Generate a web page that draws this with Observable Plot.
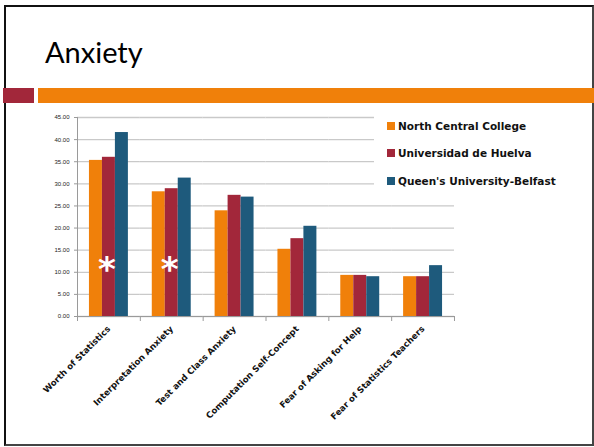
<!DOCTYPE html>
<html>
<head>
<meta charset="utf-8">
<script src="https://cdn.jsdelivr.net/npm/d3@7"></script>
<script src="https://cdn.jsdelivr.net/npm/@observablehq/plot@0.6"></script>
<style>
  html, body { margin: 0; padding: 0; background: #fff; }
  #slide { position: relative; width: 594px; height: 447px; overflow: hidden; background: #fff; }
  #border { position: absolute; left: 4px; top: 5px; width: 590px; height: 441px; box-sizing: border-box;
            border-top: 2px solid #111; border-left: 2px solid #111; border-right: 2px solid #444; border-bottom: 2px solid #444; }
  #title { position: absolute; left: 45px; top: 37px; font-family: Lato, "Open Sans", sans-serif; font-size: 29px; line-height: 29px; color: #000; }
  #bandRed { position: absolute; left: 3px; top: 88px; width: 31px; height: 15px; background: #A2273A; }
  #bandOrange { position: absolute; left: 38px; top: 88px; width: 556px; height: 15px; background: #F0800A; }
  #chart { position: absolute; left: 0; top: 0; }
  #legend { position: absolute; left: 374px; top: 110px; width: 214px; height: 82px; background: #fff; }
  .item { position: absolute; left: 13px; display: flex; align-items: center; font-family: "DejaVu Sans", sans-serif; font-weight: bold; font-size: 10.5px; color: #111; white-space: nowrap; }
  .sw { width: 8px; height: 8px; margin-right: 3px; }
</style>
</head>
<body>
<div id="slide">
  <div id="border"></div>
  <div id="title">Anxiety</div>
  <div id="bandRed"></div>
  <div id="bandOrange"></div>
  <div id="chart"></div>
  <div id="legend"></div>
</div>
<script>
const categories = [
  "Worth of Statistics",
  "Interpretation Anxiety",
  "Test and Class Anxiety",
  "Computation Self-Concept",
  "Fear of Asking for Help",
  "Fear of Statistics Teachers"
];
const series = ["North Central College", "Universidad de Huelva", "Queen's University-Belfast"];
const northCentral = [35.3, 28.2, 23.9, 15.2, 9.3, 9.0];
const huelva       = [36.0, 28.9, 27.4, 17.6, 9.3, 9.0];
const queens       = [41.6, 31.3, 27.0, 20.4, 9.0, 11.5];
const yTicks = [0, 5, 10, 15, 20, 25, 30, 35, 40, 45];
const colors = ["#F0800A", "#A2273A", "#1E5A7C"];
const starred = ["Worth of Statistics", "Interpretation Anxiety"];
const starY = [10.6, 10.6];

const seriesValues = [northCentral, huelva, queens];
const data = [];
categories.forEach((c, i) => {
  series.forEach((s, j) => data.push({category: c, series: s, value: seriesValues[j][i]}));
});
const stars = starred.map((c, i) => ({category: c, series: series[1], y: starY[i]}));

const W = 594, H = 447;
const mTop = 117, mBottom = 131, mLeft = 77, mRight = 140;
const innerH = H - mTop - mBottom;
const axisGray = "#9a9a9a";

const chart = Plot.plot({
  width: W, height: H,
  marginTop: mTop, marginBottom: mBottom, marginLeft: mLeft, marginRight: mRight,
  style: {background: "transparent", overflow: "visible"},
  fx: {domain: categories, padding: 0, round: false},
  x: {domain: series, paddingInner: 0, paddingOuter: 0.92, round: false, axis: null},
  y: {domain: [0, 45], axis: null},
  color: {domain: series, range: colors},
  marks: [
    Plot.gridY(yTicks, {stroke: "#c9c9c9", strokeOpacity: 1, strokeWidth: 1.3}),
    Plot.barY(data, {fx: "category", x: "series", y: "value", fill: "series"}),
    Plot.ruleY([0], {stroke: axisGray, strokeWidth: 1}),
    Plot.frame({anchor: "left", facetAnchor: "left", stroke: axisGray, strokeWidth: 1}),
    Plot.frame({anchor: "left", stroke: axisGray, strokeWidth: 1, insetTop: innerH, insetBottom: -4}),
    Plot.frame({anchor: "right", facetAnchor: "right", stroke: axisGray, strokeWidth: 1, insetTop: innerH, insetBottom: -4}),
    Plot.axisY(yTicks, {
      tickFormat: d3.format(".2f"), tickSize: 3, tickPadding: 5, stroke: axisGray,
      fontSize: 6, fontFamily: "Liberation Sans, Arial, sans-serif", fill: "#222", label: null
    }),
    Plot.axisFx({
      anchor: "bottom", tickRotate: -45, tickSize: 0, tickPadding: 11, label: null,
      fontSize: 8.6, fontWeight: "bold", fontFamily: "DejaVu Sans, sans-serif", fill: "#111"
    }),
    Plot.text(stars, {fx: "category", x: "series", y: "y", dx: -2, text: () => "*", fill: "white",
      fontSize: 34, fontWeight: "bold", fontFamily: "DejaVu Sans, sans-serif"})
  ]
});
document.getElementById("chart").appendChild(chart);

const legend = document.getElementById("legend");
const rowY = [16, 43, 71];
series.forEach((s, i) => {
  const it = document.createElement("div");
  it.className = "item";
  it.style.top = (rowY[i] - 6) + "px";
  it.innerHTML = `<span class="sw" style="background:${colors[i]}"></span><span>${s}</span>`;
  legend.appendChild(it);
});
</script>
</body>
</html>
